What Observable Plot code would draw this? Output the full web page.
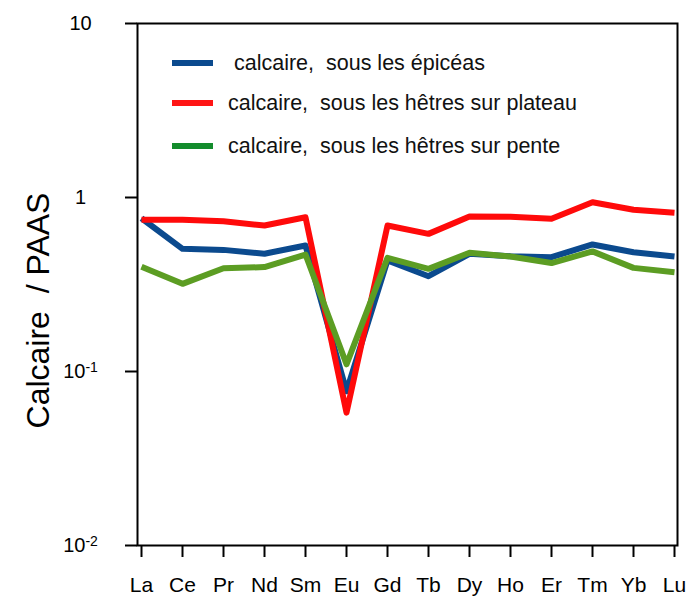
<!DOCTYPE html>
<html><head><meta charset="utf-8">
<script src="https://cdn.jsdelivr.net/npm/d3@7"></script>
<script src="https://cdn.jsdelivr.net/npm/@observablehq/plot@0.6"></script>
<style>
body{margin:0;background:#fff;font-family:"Liberation Sans",Arial,sans-serif;}
#wrap{position:relative;width:698px;height:597px;overflow:hidden;}
#wrap svg{position:absolute;left:0;top:0;font-family:"Liberation Sans",Arial,sans-serif;}
.item{position:absolute;left:172px;height:24px;display:flex;align-items:center;white-space:pre;font-size:21.5px;color:#111;font-family:"Liberation Sans",Arial,sans-serif;}
.sw{width:41px;height:6px;margin-right:15px;flex:none;}
</style></head><body><div id="wrap"></div>
<script>
const elements = ["La","Ce","Pr","Nd","Sm","Eu","Gd","Tb","Dy","Ho","Er","Tm","Yb","Lu"];
const seriesNames = [" calcaire,  sous les épicéas", "calcaire,  sous les hêtres sur plateau", "calcaire,  sous les hêtres sur pente"];
const epiceas = [0.76, 0.507, 0.50, 0.475, 0.53, 0.077, 0.435, 0.353, 0.475, 0.46, 0.454, 0.537, 0.485, 0.458];
const plateau = [0.744, 0.744, 0.73, 0.69, 0.77, 0.058, 0.69, 0.618, 0.778, 0.775, 0.754, 0.94, 0.85, 0.817];
const pente   = [0.40, 0.319, 0.392, 0.398, 0.47, 0.11, 0.45, 0.389, 0.481, 0.458, 0.42, 0.49, 0.394, 0.372];
const lineColors = ["#0b4a8e", "#ff0a0a", "#5c9d23"];
const legendColors = ["#0b4a8e", "#ff1515", "#138c2c"];
const yTicks = [10, 1, 0.1, 0.01];
const yTickLabels = ["10", "1", "10^-1", "10^-2"];
const yTitle = "Calcaire  / PAAS";

const seriesValues = [epiceas, plateau, pente];
const rows = [];
seriesValues.forEach((vals, i) => vals.forEach((v, j) => rows.push({el: elements[j], v, s: seriesNames[i]})));

const chart = Plot.plot({
  width: 698, height: 597,
  marginLeft: 137, marginRight: 21, marginTop: 23, marginBottom: 52,
  style: {background: "white", fontFamily: "Liberation Sans, Arial, sans-serif", color: "black"},
  x: {type: "point", domain: elements, padding: 0},
  y: {type: "log", domain: [0.01, 10]},
  color: {domain: seriesNames, range: lineColors},
  marks: [
    Plot.axisX({tickSize: 12, tickPadding: 20, fontSize: 21, strokeWidth: 2, label: null, fill: "black"}),
    Plot.axisY({ticks: yTicks, tickFormat: d => yTickLabels[yTicks.indexOf(d)], tickSize: 12, tickPadding: 45,
                textAnchor: "middle", fontSize: 20, strokeWidth: 2, label: null, fill: "black"}),
    Plot.frame({stroke: "black", strokeWidth: 2}),
    Plot.line(rows, {x: "el", y: "v", z: "s", stroke: "s", strokeWidth: 6, strokeLinejoin: "round", strokeLinecap: "butt"}),
    Plot.text([yTitle], {frameAnchor: "left", text: d => d, rotate: -90, textAnchor: "middle", lineAnchor: "middle",
                         dx: -99, dy: 26, fontSize: 32, fill: "black"})
  ]
});

// superscript exponents on y tick labels
d3.select(chart).selectAll("text").each(function() {
  const t = this.textContent;
  if (t.includes("^")) {
    const [base, exp] = t.split("^");
    const sel = d3.select(this);
    sel.text(null);
    sel.append("tspan").text(base);
    sel.append("tspan").attr("dy", "-0.45em").attr("font-size", "14px").text(exp);
  }
});

const wrap = document.getElementById("wrap");
wrap.appendChild(chart);
const tops = [51, 91, 134];
seriesNames.forEach((name, i) => {
  const item = document.createElement("div");
  item.className = "item";
  item.style.top = tops[i] + "px";
  const sw = document.createElement("div");
  sw.className = "sw";
  sw.style.background = legendColors[i];
  const lab = document.createElement("span");
  lab.textContent = name;
  item.appendChild(sw); item.appendChild(lab);
  wrap.appendChild(item);
});
</script></body></html>
